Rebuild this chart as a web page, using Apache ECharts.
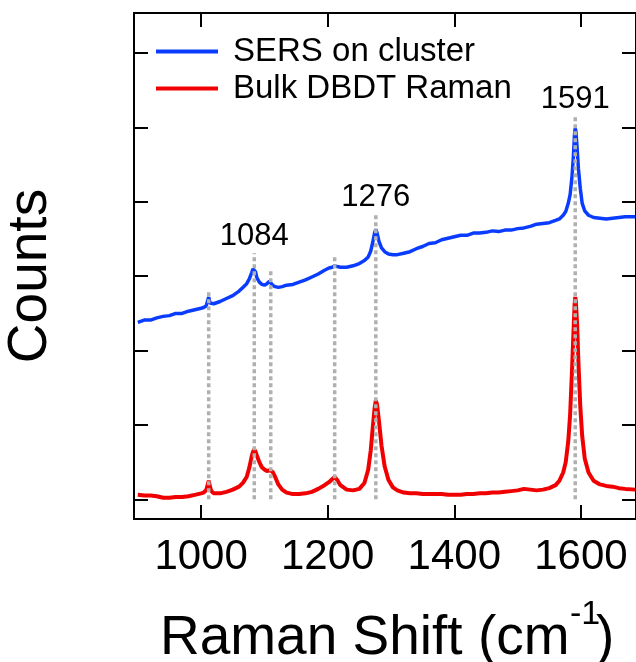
<!DOCTYPE html>
<html>
<head>
<meta charset="utf-8">
<script src="https://cdn.jsdelivr.net/npm/echarts@6/dist/echarts.min.js"></script>
<style>
  html, body { margin: 0; padding: 0; background: #fff; }
  #chart { width: 636px; height: 662px; }
</style>
</head>
<body>
<div id="chart"></div>
<script>
// Raman shift axis positions (cm-1) shared by both spectra
const wavenumbers = [
  900, 910, 920, 930, 940, 950, 960, 970, 980, 990,
  1000, 1004, 1008, 1010, 1012, 1014, 1016, 1020, 1030, 1040,
  1050, 1060, 1066, 1072, 1076, 1080, 1082, 1084, 1086, 1088,
  1092, 1096, 1100, 1104, 1108, 1110, 1113, 1117, 1122, 1128,
  1135, 1145, 1155, 1165, 1175, 1185, 1195, 1202, 1207, 1211,
  1215, 1220, 1230, 1240, 1250, 1258, 1264, 1268, 1271, 1274,
  1276, 1278, 1281, 1285, 1290, 1296, 1303, 1310, 1320, 1330,
  1340, 1350, 1360, 1370, 1380, 1390, 1400, 1410, 1420, 1430,
  1440, 1450, 1460, 1470, 1480, 1490, 1500, 1510, 1520, 1530,
  1540, 1550, 1560, 1566, 1572, 1576, 1580, 1583, 1586, 1588,
  1590, 1591, 1592, 1594, 1596, 1599, 1602, 1606, 1612, 1620,
  1630, 1640, 1650, 1660, 1670, 1686
];

// SERS spectrum on the cluster (offset, arbitrary counts)
const sersCounts = [
  2.38, 2.41, 2.41, 2.44, 2.46, 2.47, 2.50, 2.50, 2.53, 2.55,
  2.57, 2.58, 2.60, 2.66, 2.72, 2.64, 2.62, 2.63, 2.66, 2.70,
  2.74, 2.80, 2.85, 2.90, 2.96, 3.05, 3.10, 3.12, 3.06, 2.98,
  2.92, 2.89, 2.88, 2.90, 2.93, 2.92, 2.88, 2.86, 2.85, 2.86,
  2.88, 2.89, 2.92, 2.95, 2.99, 3.03, 3.08, 3.11, 3.12, 3.14,
  3.13, 3.12, 3.12, 3.14, 3.17, 3.21, 3.26, 3.34, 3.45, 3.58,
  3.63, 3.58, 3.47, 3.38, 3.33, 3.30, 3.29, 3.29, 3.31, 3.33,
  3.37, 3.40, 3.44, 3.45, 3.49, 3.51, 3.53, 3.55, 3.55, 3.58,
  3.58, 3.59, 3.61, 3.60, 3.62, 3.62, 3.64, 3.65, 3.67, 3.70,
  3.71, 3.72, 3.75, 3.77, 3.82, 3.87, 3.98, 4.10, 4.35, 4.60,
  4.92, 4.99, 4.95, 4.72, 4.45, 4.18, 3.98, 3.88, 3.82, 3.79,
  3.78, 3.77, 3.78, 3.79, 3.80, 3.80
];

// Bulk DBDT Raman spectrum (arbitrary counts)
const bulkCounts = [
  0.06, 0.05, 0.05, 0.04, 0.02, 0.02, 0.03, 0.03, 0.04, 0.06,
  0.08, 0.09, 0.12, 0.18, 0.25, 0.17, 0.11, 0.08, 0.08, 0.10,
  0.13, 0.17, 0.22, 0.30, 0.42, 0.58, 0.64, 0.67, 0.64, 0.59,
  0.50, 0.43, 0.40, 0.38, 0.39, 0.39, 0.37, 0.30, 0.20, 0.13,
  0.09, 0.07, 0.07, 0.08, 0.10, 0.14, 0.19, 0.23, 0.27, 0.30,
  0.26, 0.19, 0.13, 0.12, 0.14, 0.22, 0.40, 0.66, 0.95, 1.22,
  1.33, 1.27, 1.05, 0.72, 0.44, 0.26, 0.16, 0.12, 0.09, 0.08,
  0.08, 0.07, 0.07, 0.07, 0.07, 0.06, 0.06, 0.06, 0.07, 0.07,
  0.08, 0.08, 0.09, 0.09, 0.10, 0.11, 0.12, 0.14, 0.13, 0.12,
  0.13, 0.15, 0.19, 0.25, 0.36, 0.50, 0.78, 1.15, 1.75, 2.20,
  2.62, 2.72, 2.66, 2.35, 1.85, 1.25, 0.85, 0.55, 0.36, 0.25,
  0.20, 0.18, 0.17, 0.15, 0.14, 0.13
];

// Band positions marked with dotted guides; the top of each guide, and whether it is labelled
const peakShifts = [1012, 1084, 1110, 1211, 1276, 1591];
const peakLineTops = [2.82, 3.31, 3.08, 3.29, 3.84, 5.15];
const peakLabelled = [0, 1, 0, 0, 1, 1];

const seriesNames = ['SERS on cluster', 'Bulk DBDT Raman'];
const xTicks = [1000, 1200, 1400, 1600];
const yTicks = [0, 1, 2, 3, 4, 5, 6];
const xTitle = 'Raman Shift (cm';
const xTitleSup = '-1';
const yTitle = 'Counts';

const FONT = '"Liberation Sans", Arial, Helvetica, sans-serif';
const BLUE = '#0a3cff';
const RED = '#f00000';
const GUIDE = '#b0b0b0';

const chart = echarts.init(document.getElementById('chart'), null, { renderer: 'canvas' });

function toPairs(xs, ys) {
  return xs.map(function (x, i) { return [x, ys[i]]; });
}

const frameLine = { show: true, onZero: false, lineStyle: { color: '#000', width: 2 } };
function innerTicks(values) {
  return { show: true, inside: true, length: 14, customValues: values, lineStyle: { color: '#000', width: 2 } };
}

const xRange = { min: 894, max: 1687 };
const yRange = { min: -0.265, max: 6.54 };

const option = {
  animation: false,
  backgroundColor: '#fff',
  grid: { left: 134, top: 13, width: 507, height: 506, containLabel: false },
  legend: {
    data: seriesNames,
    orient: 'vertical',
    left: 156,
    top: 35,
    padding: 0,
    icon: 'rect',
    itemWidth: 62,
    itemHeight: 4,
    itemGap: 4,
    selectedMode: false,
    textStyle: { fontFamily: FONT, fontSize: 33, lineHeight: 33, color: '#000', padding: [0, 0, 0, 10] }
  },
  xAxis: [
    {
      type: 'value', position: 'bottom', min: xRange.min, max: xRange.max,
      axisLine: frameLine, axisTick: innerTicks(xTicks),
      axisLabel: {
        customValues: xTicks, fontFamily: FONT, fontSize: 42, color: '#000', margin: 17,
        formatter: function (v) { return String(v); }
      },
      splitLine: { show: false }
    },
    {
      type: 'value', position: 'top', min: xRange.min, max: xRange.max,
      axisLine: frameLine, axisTick: innerTicks(xTicks),
      axisLabel: { show: false }, splitLine: { show: false }
    }
  ],
  yAxis: [
    {
      type: 'value', position: 'left', min: yRange.min, max: yRange.max,
      axisLine: frameLine, axisTick: innerTicks(yTicks),
      axisLabel: { show: false }, splitLine: { show: false }
    },
    {
      type: 'value', position: 'right', min: yRange.min, max: yRange.max,
      axisLine: frameLine, axisTick: innerTicks(yTicks),
      axisLabel: { show: false }, splitLine: { show: false }
    }
  ],
  graphic: [
    // vertical axis title
    {
      type: 'text', x: 31, y: 276, rotation: Math.PI / 2,
      style: { text: yTitle, font: '55px ' + FONT, fill: '#000', align: 'center', verticalAlign: 'middle' }
    },
    // horizontal axis title with superscript unit exponent
    {
      type: 'text', x: 160, y: 639,
      style: { text: xTitle, font: '55px ' + FONT, fill: '#000', align: 'left', verticalAlign: 'middle' }
    },
    {
      type: 'text', x: 570, y: 615,
      style: { text: xTitleSup, font: '34px ' + FONT, fill: '#000', align: 'left', verticalAlign: 'middle' }
    },
    {
      type: 'text', x: 596, y: 639,
      style: { text: ')', font: '55px ' + FONT, fill: '#000', align: 'left', verticalAlign: 'middle' }
    }
  ],
  series: [
    {
      name: seriesNames[0], type: 'line', data: toPairs(wavenumbers, sersCounts),
      showSymbol: false, symbol: 'none', color: BLUE,
      lineStyle: { color: BLUE, width: 3.5 }, z: 3
    },
    {
      name: seriesNames[1], type: 'line', data: toPairs(wavenumbers, bulkCounts),
      showSymbol: false, symbol: 'none', color: RED,
      lineStyle: { color: RED, width: 4 }, z: 3
    },
    {
      name: 'guides', type: 'custom', z: 5,
      data: peakShifts.map(function (x, i) { return [x, peakLineTops[i], peakLabelled[i]]; }),
      encode: { x: 0, y: 1 },
      renderItem: function (params, api) {
        const x = api.value(0);
        const top = api.value(1);
        const p0 = api.coord([x, 0]);
        const p1 = api.coord([x, top]);
        const children = [{
          type: 'line',
          shape: { x1: p0[0], y1: p0[1], x2: p1[0], y2: p1[1] },
          style: { stroke: GUIDE, lineWidth: 3.5, lineDash: [4, 3] }
        }];
        if (api.value(2)) {
          children.push({
            type: 'text', x: p1[0], y: p1[1] - 1,
            style: { text: String(x), font: '31px ' + FONT, fill: '#000', align: 'center', verticalAlign: 'bottom' }
          });
        }
        return { type: 'group', children: children };
      }
    }
  ]
};

chart.setOption(option);
</script>
</body>
</html>
